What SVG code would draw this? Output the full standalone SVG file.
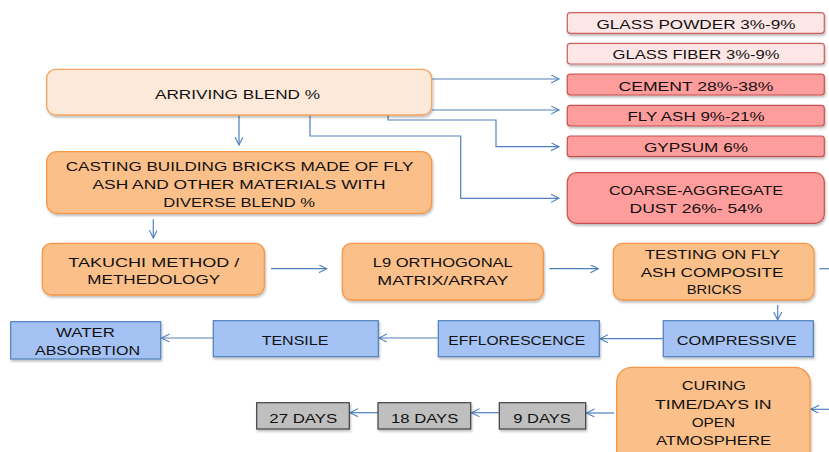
<svg xmlns="http://www.w3.org/2000/svg" width="829" height="452" viewBox="0 0 829 452">
<style>
text{font-family:"Liberation Sans",Arial,sans-serif;font-size:13.5px;fill:#111;text-anchor:middle}
.b{filter:url(#sh)}
.pale{fill:#FDE9D9;stroke:#F4A460;stroke-width:1.3}
.org{fill:#FBBF8A;stroke:#F79646;stroke-width:1.3}
.pink{fill:#FDE6E6;stroke:#D0605C;stroke-width:1.2}
.red{fill:#FF9C9C;stroke:#C8504D;stroke-width:1.2}
.blue{fill:#A4C2F4;stroke:#4F81BD;stroke-width:1.2}
.grey{fill:#BFBFBF;stroke:#404040;stroke-width:1.2}
.c{fill:none;stroke:#4F81BD;stroke-width:1.2}
</style>
<defs>
<filter id="sh" x="-10%" y="-20%" width="120%" height="150%">
<feDropShadow dx="1" dy="2" stdDeviation="1" flood-color="#000" flood-opacity="0.25"/>
</filter>
<marker id="a" markerWidth="10" markerHeight="10" refX="8" refY="4" orient="auto" markerUnits="userSpaceOnUse">
<path d="M0,0 L8,4 L0,8" fill="none" stroke="#4F81BD" stroke-width="1.1"/>
</marker>
</defs>
<g id="connectors">
<path class="c" d="M431.7,79 H559" marker-end="url(#a)"/>
<path class="c" d="M431.7,110 H559" marker-end="url(#a)"/>
<path class="c" d="M388,115 V120 H496 V146.7 H559" marker-end="url(#a)"/>
<path class="c" d="M310,115 V136 H460.7 V198.3 H559" marker-end="url(#a)"/>
<path class="c" d="M239,115 V145" marker-end="url(#a)"/>
<path class="c" d="M153.3,219.3 V238" marker-end="url(#a)"/>
<path class="c" d="M271,268.7 H326.7" marker-end="url(#a)"/>
<path class="c" d="M549.3,268.7 H598.3" marker-end="url(#a)"/>
<path class="c" d="M819.3,268.7 H829"/>
<path class="c" d="M777.7,305 V320" marker-end="url(#a)"/>
<path class="c" d="M663.3,338.7 H600" marker-end="url(#a)"/>
<path class="c" d="M438.3,338 H379" marker-end="url(#a)"/>
<path class="c" d="M213.3,338 H161.5" marker-end="url(#a)"/>
<path class="c" d="M829,409.3 H811" marker-end="url(#a)"/>
<path class="c" d="M614,413 H586.5" marker-end="url(#a)"/>
<path class="c" d="M499.3,412.7 H471.5" marker-end="url(#a)"/>
<path class="c" d="M378,412.7 H350" marker-end="url(#a)"/>
</g>
<g id="glass-powder"><rect class="b pink" x="567.3" y="12.7" width="257" height="20.6" rx="3"/><text x="696" y="29.3" textLength="199" lengthAdjust="spacingAndGlyphs">GLASS POWDER 3%-9%</text></g>
<g id="glass-fiber"><rect class="b pink" x="567.3" y="43.3" width="257" height="20.7" rx="3"/><text x="696" y="58.8" textLength="167" lengthAdjust="spacingAndGlyphs">GLASS FIBER 3%-9%</text></g>
<g id="cement"><rect class="b red" x="567.3" y="74" width="257" height="21" rx="3"/><text x="696" y="90.7" textLength="155" lengthAdjust="spacingAndGlyphs">CEMENT 28%-38%</text></g>
<g id="fly-ash"><rect class="b red" x="567.3" y="105.3" width="257" height="20.7" rx="3"/><text x="696" y="120.8" textLength="137" lengthAdjust="spacingAndGlyphs">FLY ASH 9%-21%</text></g>
<g id="gypsum"><rect class="b red" x="567.3" y="136" width="257" height="20.7" rx="3"/><text x="696" y="151.6" textLength="104" lengthAdjust="spacingAndGlyphs">GYPSUM 6%</text></g>
<g id="coarse"><rect class="b red" x="567.3" y="172.7" width="257" height="50.6" rx="9"/><text x="696" y="195" textLength="174" lengthAdjust="spacingAndGlyphs">COARSE-AGGREGATE</text><text x="696" y="212.7" textLength="133" lengthAdjust="spacingAndGlyphs">DUST 26%- 54%</text></g>
<g id="arriving"><rect class="b pale" x="46.7" y="69.3" width="385" height="45.7" rx="9"/><text x="237.5" y="99" textLength="165" lengthAdjust="spacingAndGlyphs">ARRIVING BLEND %</text></g>
<g id="casting"><rect class="b org" x="46.7" y="151.7" width="385" height="61.6" rx="10"/><text x="239.5" y="171" textLength="347.7" lengthAdjust="spacingAndGlyphs">CASTING BUILDING BRICKS MADE OF FLY</text><text x="239" y="189" textLength="293" lengthAdjust="spacingAndGlyphs">ASH AND OTHER MATERIALS WITH</text><text x="239.2" y="207.3" textLength="151.7" lengthAdjust="spacingAndGlyphs">DIVERSE BLEND %</text></g>
<g id="takuchi"><rect class="b org" x="42.3" y="243.3" width="222" height="51.7" rx="9"/><text x="153.8" y="266.7" textLength="171" lengthAdjust="spacingAndGlyphs">TAKUCHI METHOD /</text><text x="153.7" y="284.3" textLength="132.7" lengthAdjust="spacingAndGlyphs">METHEDOLOGY</text></g>
<g id="l9"><rect class="b org" x="342.3" y="243.3" width="201" height="56.7" rx="9"/><text x="442.8" y="267.3" textLength="140" lengthAdjust="spacingAndGlyphs">L9 ORTHOGONAL</text><text x="442.8" y="285" textLength="131" lengthAdjust="spacingAndGlyphs">MATRIX/ARRAY</text></g>
<g id="testing"><rect class="b org" x="613.3" y="243.3" width="200.7" height="56.7" rx="9"/><text x="712.5" y="259.3" textLength="135" lengthAdjust="spacingAndGlyphs">TESTING ON FLY</text><text x="712" y="276.7" textLength="142.7" lengthAdjust="spacingAndGlyphs">ASH COMPOSITE</text><text x="714.2" y="294.3" textLength="55" lengthAdjust="spacingAndGlyphs">BRICKS</text></g>
<g id="water"><rect class="b blue" x="10.7" y="321.7" width="150" height="37.3"/><text x="85.5" y="336.7" textLength="59" lengthAdjust="spacingAndGlyphs">WATER</text><text x="87.5" y="355" textLength="105" lengthAdjust="spacingAndGlyphs">ABSORBTION</text></g>
<g id="tensile"><rect class="b blue" x="213.3" y="320.7" width="165" height="36"/><text x="295" y="345" textLength="66.7" lengthAdjust="spacingAndGlyphs">TENSILE</text></g>
<g id="efflorescence"><rect class="b blue" x="438.3" y="320.7" width="161" height="36"/><text x="516.7" y="345" textLength="136.7" lengthAdjust="spacingAndGlyphs">EFFLORESCENCE</text></g>
<g id="compressive"><rect class="b blue" x="663.3" y="320.7" width="150" height="36"/><text x="736.7" y="345" textLength="120" lengthAdjust="spacingAndGlyphs">COMPRESSIVE</text></g>
<g id="curing"><rect class="b org" x="616.7" y="367.3" width="193.3" height="100" rx="15"/><text x="713.8" y="390" textLength="64.3" lengthAdjust="spacingAndGlyphs">CURING</text><text x="713.3" y="409" textLength="116.7" lengthAdjust="spacingAndGlyphs">TIME/DAYS IN</text><text x="713.3" y="426.7" textLength="43.3" lengthAdjust="spacingAndGlyphs">OPEN</text><text x="713.5" y="445" textLength="115" lengthAdjust="spacingAndGlyphs">ATMOSPHERE</text></g>
<g id="d27"><rect class="b grey" x="256.7" y="402.7" width="92.6" height="26.3"/><text x="303.3" y="422.7" textLength="68" lengthAdjust="spacingAndGlyphs">27 DAYS</text></g>
<g id="d18"><rect class="b grey" x="378" y="402.7" width="92.7" height="26.3"/><text x="424.7" y="422.7" textLength="67.3" lengthAdjust="spacingAndGlyphs">18 DAYS</text></g>
<g id="d9"><rect class="b grey" x="499.3" y="402.7" width="86.4" height="26.3"/><text x="542" y="422.7" textLength="57.3" lengthAdjust="spacingAndGlyphs">9 DAYS</text></g>
</svg>
